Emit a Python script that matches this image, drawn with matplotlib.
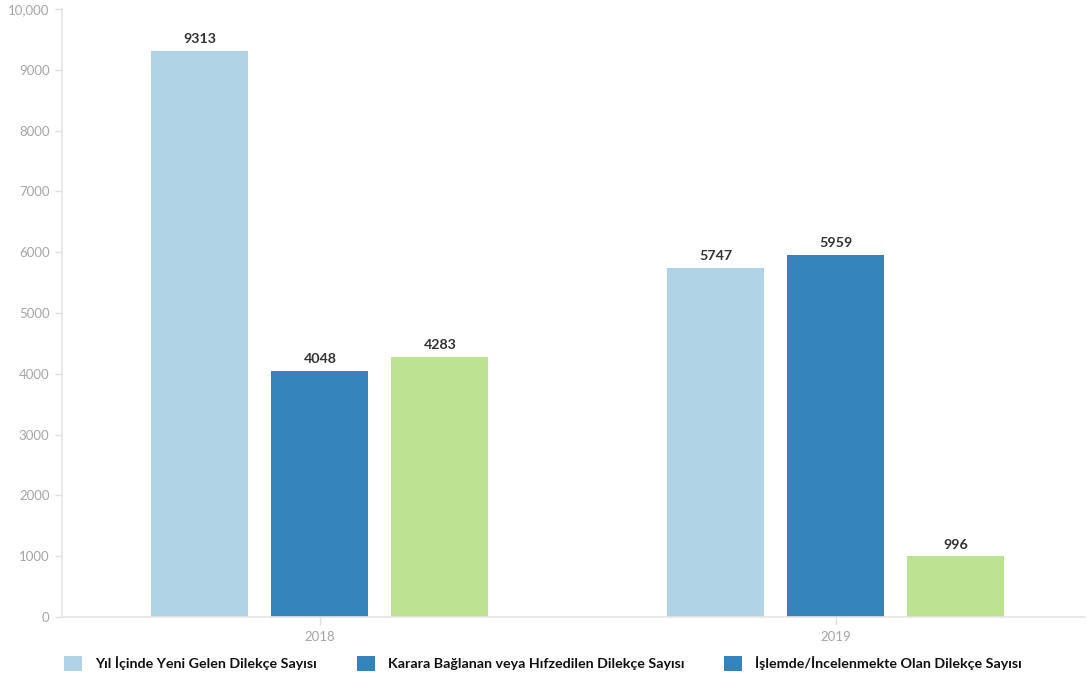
import numpy as np
import matplotlib
matplotlib.use("Agg")
from matplotlib import pyplot as plt
from matplotlib.patches import Patch

years = ["2018", "2019"]
yeni_gelen = [9313, 5747]
karara_baglanan = [4048, 5959]
islemde = [4283, 996]
series_names = [
    "Yıl İçinde Yeni Gelen Dilekçe Sayısı",
    "Karara Bağlanan veya Hıfzedilen Dilekçe Sayısı",
    "İşlemde/İncelenmekte Olan Dilekçe Sayısı",
]
y_ticks = [0, 1000, 2000, 3000, 4000, 5000, 6000, 7000, 8000, 9000, 10000]
y_labels = ["0", "1000", "2000", "3000", "4000", "5000", "6000", "7000", "8000", "9000", "10,000"]

bar_colors = ["#b1d3e6", "#3484bb", "#bce391"]
legend_colors = ["#b1d3e6", "#3484bb", "#3484bb"]

plt.rcParams['font.family'] = ['Lato', 'DejaVu Sans']

fig = plt.figure(figsize=(10.87, 6.84), dpi=100)
ax = fig.add_axes([0.057, 0.098, 0.941, 0.889])

x = np.arange(len(years))
width = 0.188
offsets = [-0.2326, 0, 0.2326]
for vals, off, col in zip([yeni_gelen, karara_baglanan, islemde], offsets, bar_colors):
    bars = ax.bar(x + off, vals, width, color=col, zorder=2)
    for b, v in zip(bars, vals):
        ax.text(b.get_x() + b.get_width() / 2, v + 90, str(v), ha='center', va='bottom',
                fontsize=10.3, fontweight='bold', color='#333333')

ax.set_xlim(-0.5, 1.483)
ax.set_ylim(0, 10000)
ax.set_yticks(y_ticks)
ax.set_yticklabels(y_labels)
ax.set_xticks(x)
ax.set_xticklabels(years)

for s in ['top', 'right']:
    ax.spines[s].set_visible(False)
for s in ['left', 'bottom']:
    ax.spines[s].set_color('#e6e6e6')
    ax.spines[s].set_linewidth(1.2)
ax.tick_params(axis='y', colors='#e0e0e0', labelcolor='#a6a6a6', labelsize=9.5, length=5, width=1, pad=4)
ax.tick_params(axis='x', colors='#e0e0e0', labelcolor='#a6a6a6', labelsize=9.5, length=6, width=1, pad=4)

handles = [Patch(facecolor=c, edgecolor='none') for c in legend_colors]
leg = fig.legend(handles, series_names, loc='lower left', bbox_to_anchor=(0.047, 0.0),
                 ncol=3, frameon=False, handlelength=1.26, handleheight=1.26,
                 handletextpad=0.9, columnspacing=2.8, prop={'weight': 'bold', 'size': 10.3})
for t in leg.get_texts():
    t.set_color('#111111')

fig.savefig("out.png", dpi=100)
